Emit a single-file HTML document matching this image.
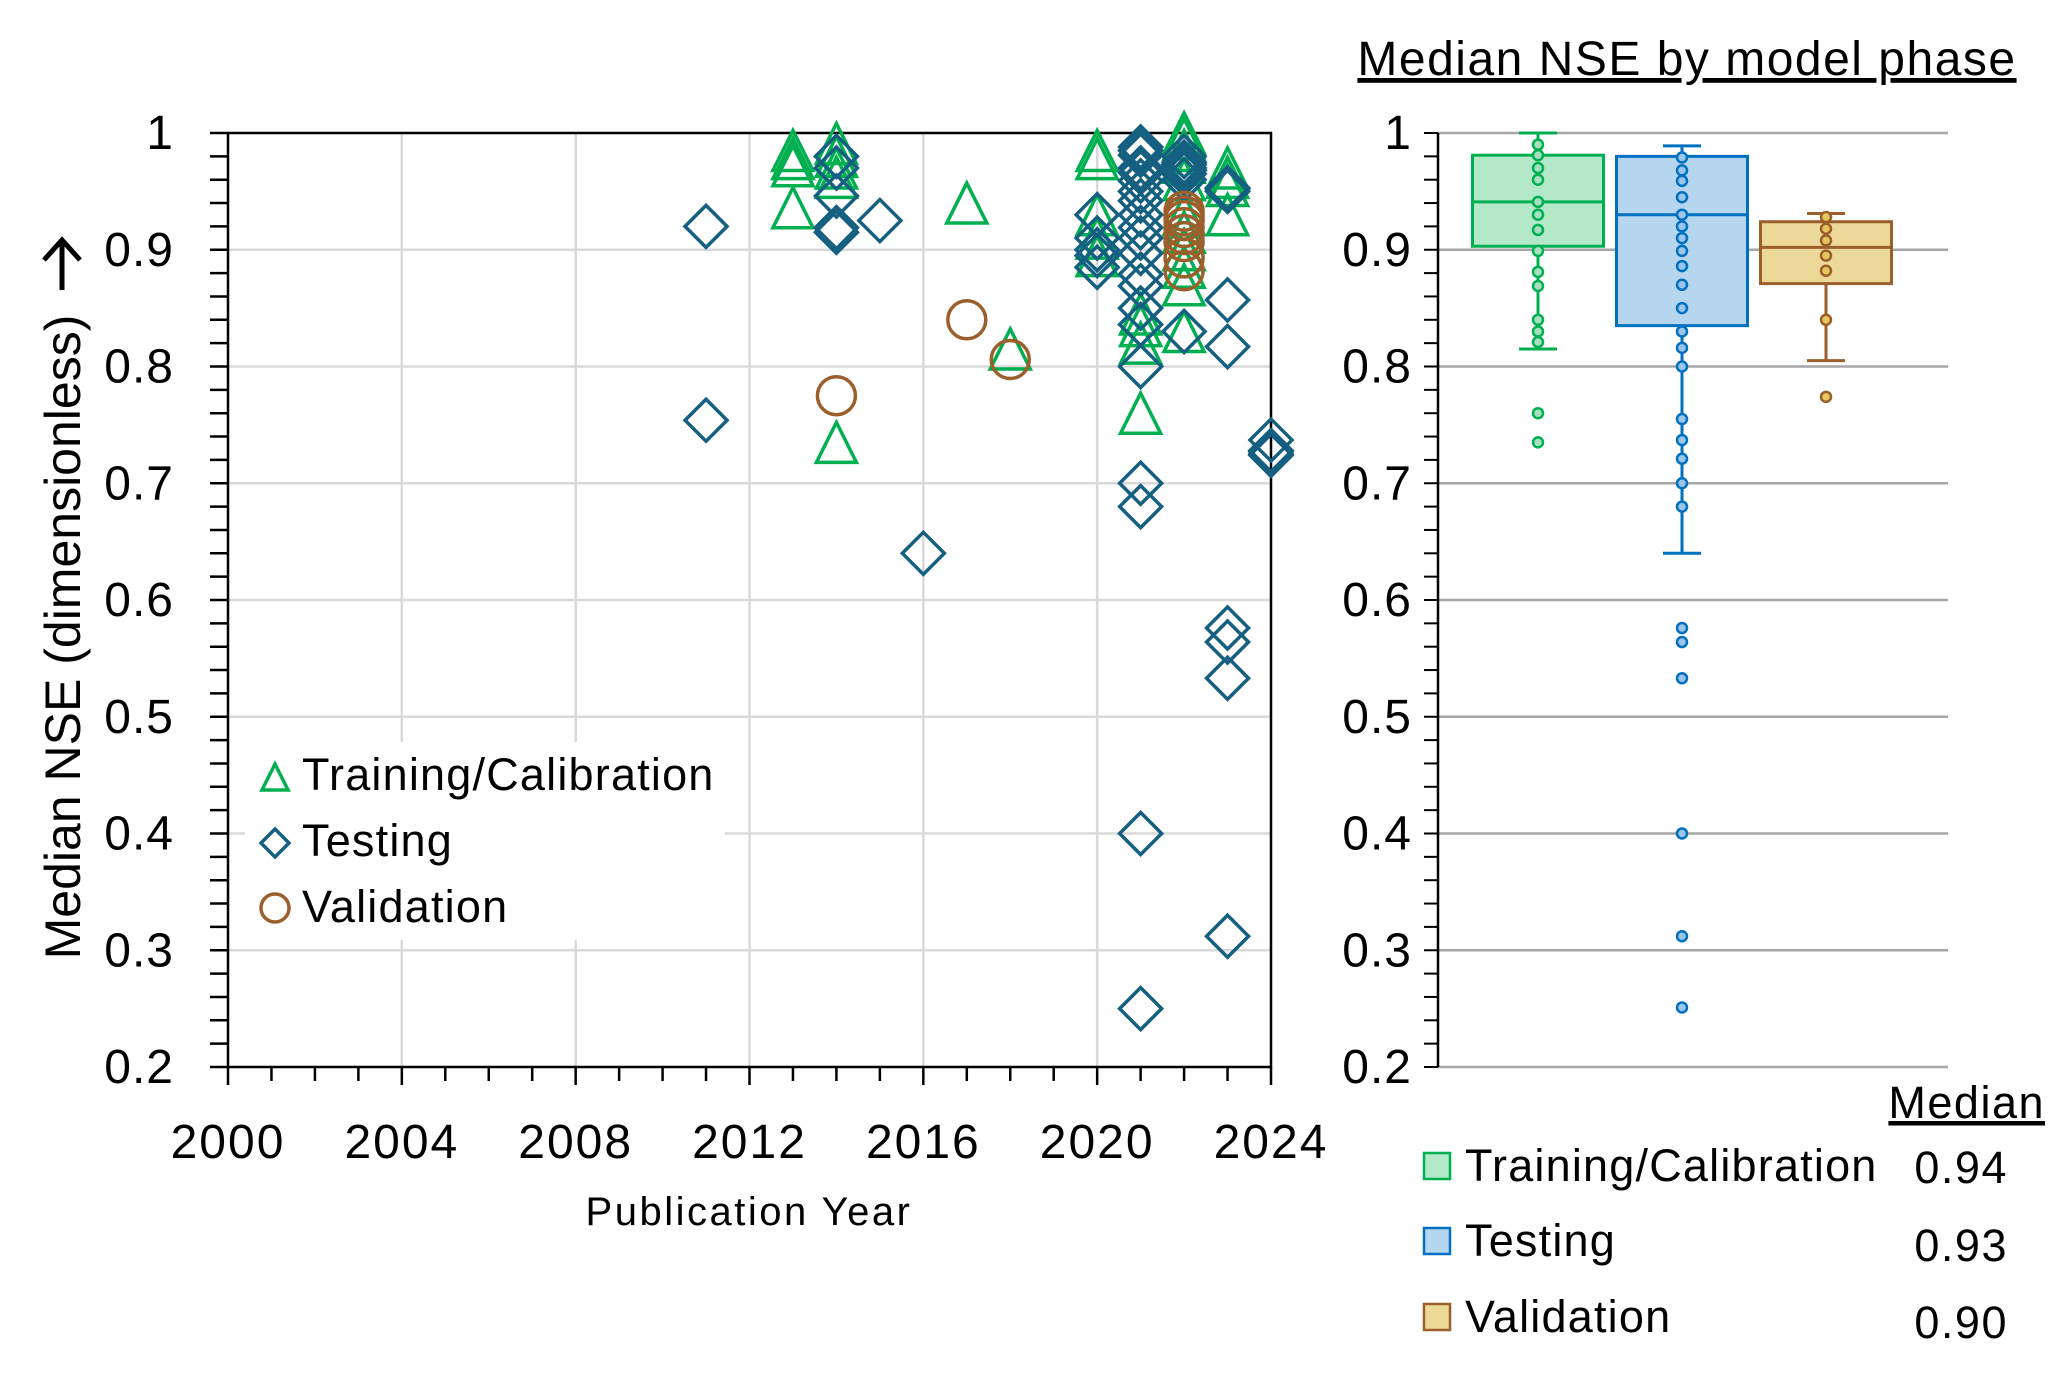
<!DOCTYPE html>
<html><head><meta charset="utf-8"><style>
html,body{margin:0;padding:0;background:#fff;}
svg{display:block;font-family:"Liberation Sans",sans-serif;}
</style></head><body>
<svg id="chart" width="2065" height="1377" viewBox="0 0 2065 1377" xmlns="http://www.w3.org/2000/svg">
<g id="left"></g>
<g id="right"></g>
</svg>
<script>
// ---- scatter data ----
const trainYears = [2013,2013,2013,2013,2014,2014,2014,2014,2014,2017,2018,2020,2020,2020,2020,2020,2021,2021,2021,2021,2022,2022,2022,2022,2022,2022,2022,2022,2022,2022,2022,2023,2023,2023,2023];
const trainVals  = [0.985,0.978,0.972,0.936,0.991,0.98,0.97,0.962,0.735,0.94,0.815,0.985,0.978,0.93,0.91,0.895,0.845,0.835,0.82,0.76,1.0,0.995,0.985,0.975,0.96,0.93,0.915,0.9,0.885,0.87,0.83,0.97,0.962,0.955,0.93];
const testYears = [2011,2011,2014,2014,2014,2014,2014,2015,2016,2020,2020,2020,2020,2020,2021,2021,2021,2021,2021,2021,2021,2021,2021,2021,2021,2021,2021,2021,2021,2021,2021,2021,2021,2021,2021,2022,2022,2022,2022,2022,2022,2022,2022,2023,2023,2023,2023,2023,2023,2023,2023,2023,2024,2024,2024,2024,2024];
const testVals  = [0.92,0.754,0.98,0.97,0.946,0.919,0.915,0.925,0.64,0.93,0.91,0.9,0.895,0.885,0.988,0.985,0.981,0.97,0.966,0.959,0.95,0.942,0.93,0.919,0.91,0.897,0.879,0.869,0.85,0.836,0.8,0.7,0.68,0.4,0.25,0.98,0.975,0.973,0.97,0.968,0.965,0.96,0.83,0.953,0.952,0.95,0.857,0.817,0.576,0.564,0.533,0.312,0.737,0.728,0.727,0.725,0.724];
const valYears = [2014,2017,2018,2022,2022,2022,2022,2022,2022,2022,2022];
const valVals  = [0.775,0.84,0.806,0.933,0.929,0.925,0.919,0.913,0.907,0.893,0.882];
const yTicks = [1,0.9,0.8,0.7,0.6,0.5,0.4,0.3,0.2];
const yTickLabels = ["1","0.9","0.8","0.7","0.6","0.5","0.4","0.3","0.2"];
const xTicks = [2000,2004,2008,2012,2016,2020,2024];
// ---- boxplot data ----
const phases = ["Training/Calibration","Testing","Validation"];
const boxQ1 = [0.903,0.835,0.871];
const boxMed = [0.941,0.930,0.902];
const boxQ3 = [0.981,0.980,0.924];
const whiskLo = [0.815,0.640,0.805];
const whiskHi = [1.0,0.989,0.931];
const trainDots = [0.99,0.981,0.97,0.96,0.941,0.93,0.917,0.899,0.881,0.869,0.84,0.83,0.821,0.76,0.735];
const testDots = [0.979,0.968,0.959,0.945,0.93,0.92,0.91,0.899,0.886,0.87,0.85,0.83,0.816,0.8,0.755,0.737,0.721,0.7,0.68,0.576,0.564,0.533,0.40,0.312,0.251];
const valDots = [0.928,0.918,0.908,0.895,0.882,0.84,0.774];
const medianLabels = ["0.94","0.93","0.90"];

const NS="http://www.w3.org/2000/svg";
function el(tag, attrs, parent, text){const e=document.createElementNS(NS,tag);for(const k in attrs)e.setAttribute(k,attrs[k]);if(text!==undefined)e.textContent=text;parent.appendChild(e);return e;}
const X0=228,X1=1271,Y0=133,Y1=1067;
const xS=y=>X0+(y-2000)*(X1-X0)/24;
const yS=v=>Y0+(1-v)*(Y1-Y0)/0.8;
const L=document.getElementById('left'), R=document.getElementById('right');
const grid='#d9d9d9';
// grid
yTicks.forEach(v=>{if(v<1&&v>0.2){const g=el('line',{x1:X0,x2:X1,y1:yS(v),y2:yS(v),stroke:grid,'stroke-width':2.5},L);

}});
xTicks.forEach(t=>{if(t>2000&&t<2024){const g=el('line',{x1:xS(t),x2:xS(t),y1:Y0,y2:Y1,stroke:grid,'stroke-width':2.5},L);

}});
// frame
const fr=el('rect',{x:X0,y:Y0,width:X1-X0,height:Y1-Y0,fill:'none',stroke:'#000','stroke-width':2.5},L);


// y ticks
for(let i=0;i<=40;i++){const v=0.2+i*0.02;el('line',{x1:X0-18,x2:X0,y1:yS(v),y2:yS(v),stroke:'#000','stroke-width':2.5},L);}
yTicks.forEach((v,i)=>{const t=el('text',{x:174,y:yS(v)+16,'text-anchor':'end','font-size':48,'letter-spacing':1,fill:'#000'},L,yTickLabels[i]);

});
// x ticks
for(let y=2000;y<=2024;y++){el('line',{x1:xS(y),x2:xS(y),y1:Y1,y2:Y1+(y%4===0?18:14),stroke:'#000','stroke-width':2.5},L);}
xTicks.forEach(t=>{const e=el('text',{x:xS(t),y:1158,'text-anchor':'middle','font-size':48,'letter-spacing':2,fill:'#000'},L,String(t));

});
// axis titles
const xt=el('text',{x:749,y:1225,'text-anchor':'middle','font-size':40,'letter-spacing':2.5,fill:'#000'},L,'Publication Year');


const yt=el('text',{x:0,y:0,transform:'translate(80,637) rotate(-90)','text-anchor':'middle','font-size':50,fill:'#000'},L,'Median NSE (dimensionless)');


const ar=el('path',{d:'M62,290 L62,240 M44,260 L62,240 L80,260',fill:'none',stroke:'#000','stroke-width':5},L);


// markers
const cT='#00b050',cD='#155f80',cV='#9b5f2c';
function tri(cx,cy,s,c,p){return el('polygon',{points:`${cx},${cy-s} ${cx-s},${cy+s} ${cx+s},${cy+s}`,fill:'none',stroke:c,'stroke-width':3.5},p);}
function dia(cx,cy,s,c,p){return el('polygon',{points:`${cx},${cy-s} ${cx+s},${cy} ${cx},${cy+s} ${cx-s},${cy}`,fill:'none',stroke:c,'stroke-width':3.5},p);}
trainYears.forEach((y,i)=>{const m=tri(xS(y),yS(trainVals[i]),20,cT,L);

});
testYears.forEach((y,i)=>{const m=dia(xS(y),yS(testVals[i]),21,cD,L);

});
valYears.forEach((y,i)=>{const m=el('circle',{cx:xS(y),cy:yS(valVals[i]),r:19,fill:'none',stroke:cV,'stroke-width':3.5},L);

});
// legend left
const lg=el('g',{},L);


el('rect',{x:245,y:742,width:480,height:198,fill:'#fff'},lg);
tri(275,777,13,cT,lg);dia(275,843,14,cD,lg);el('circle',{cx:275,cy:908,r:14,fill:'none',stroke:cV,'stroke-width':3.5},lg);
['Training/Calibration','Testing','Validation'].forEach((s,i)=>{const t=el('text',{x:302,y:790+i*66,'font-size':45,'letter-spacing':1.2,fill:'#000'},lg,s);

});

// ---- right panel ----
const RX0=1438,RX1=1948;
yTicks.forEach(v=>{const g=el('line',{x1:RX0,x2:RX1,y1:yS(v),y2:yS(v),stroke:'#a6a6a6','stroke-width':2.5},R);

});
el('line',{x1:RX0,x2:RX0,y1:Y0,y2:Y1,stroke:'#000','stroke-width':2.5},R);
for(let i=0;i<=40;i++){const v=0.2+i*0.02;el('line',{x1:RX0-14,x2:RX0,y1:yS(v),y2:yS(v),stroke:'#000','stroke-width':2},R);}
yTicks.forEach((v,i)=>{const t=el('text',{x:1412,y:yS(v)+16,'text-anchor':'end','font-size':48,'letter-spacing':1,fill:'#000'},R,yTickLabels[i]);

});
const title=el('text',{x:1687,y:75,'text-anchor':'middle','font-size':48,'letter-spacing':1.5,fill:'#000','text-decoration':'underline'},R,'Median NSE by model phase');


const cx=[1538,1682,1826],bw=131;
const strokes=['#00b050','#0070c0','#9b5f2c'],fills=['#b3e8c9','#b6d5ee','#ecd898'],dotF=['#a8e0bf','#9cc5ea','#e5c660'];
const dots=[trainDots,testDots,valDots];
phases.forEach((p,i)=>{
  const g=el('g',{},R);
  
  
  el('line',{x1:cx[i],x2:cx[i],y1:yS(whiskHi[i]),y2:yS(whiskLo[i]),stroke:strokes[i],'stroke-width':3},g);
  el('line',{x1:cx[i]-19,x2:cx[i]+19,y1:yS(whiskHi[i]),y2:yS(whiskHi[i]),stroke:strokes[i],'stroke-width':3},g);
  el('line',{x1:cx[i]-19,x2:cx[i]+19,y1:yS(whiskLo[i]),y2:yS(whiskLo[i]),stroke:strokes[i],'stroke-width':3},g);
  el('rect',{x:cx[i]-bw/2,y:yS(boxQ3[i]),width:bw,height:yS(boxQ1[i])-yS(boxQ3[i]),fill:fills[i],stroke:strokes[i],'stroke-width':3},g);
  el('line',{x1:cx[i]-bw/2,x2:cx[i]+bw/2,y1:yS(boxMed[i]),y2:yS(boxMed[i]),stroke:strokes[i],'stroke-width':3},g);
  dots[i].forEach(v=>{const d=el('circle',{cx:cx[i],cy:yS(v),r:5,fill:dotF[i],stroke:strokes[i],'stroke-width':2.5},g);
  
  });
});
// legend right
const mh=el('text',{x:2045,y:1118,'text-anchor':'end','font-size':45,'letter-spacing':1.5,fill:'#000','text-decoration':'underline'},R,'Median');


const ly=[1166,1241,1317],my=[1183,1261,1338];
phases.forEach((p,i)=>{
  const s=el('rect',{x:1424,y:ly[i]-13,width:26,height:26,fill:fills[i],stroke:strokes[i],'stroke-width':2.5},R);
  
  
  const t=el('text',{x:1465,y:ly[i]+15,'font-size':45,'letter-spacing':1.2,fill:'#000'},R,p);
  
  
  const m=el('text',{x:2008,y:my[i],'text-anchor':'end','font-size':45,'letter-spacing':1.5,fill:'#000'},R,medianLabels[i]);
  
  
});
</script>
</body></html>
